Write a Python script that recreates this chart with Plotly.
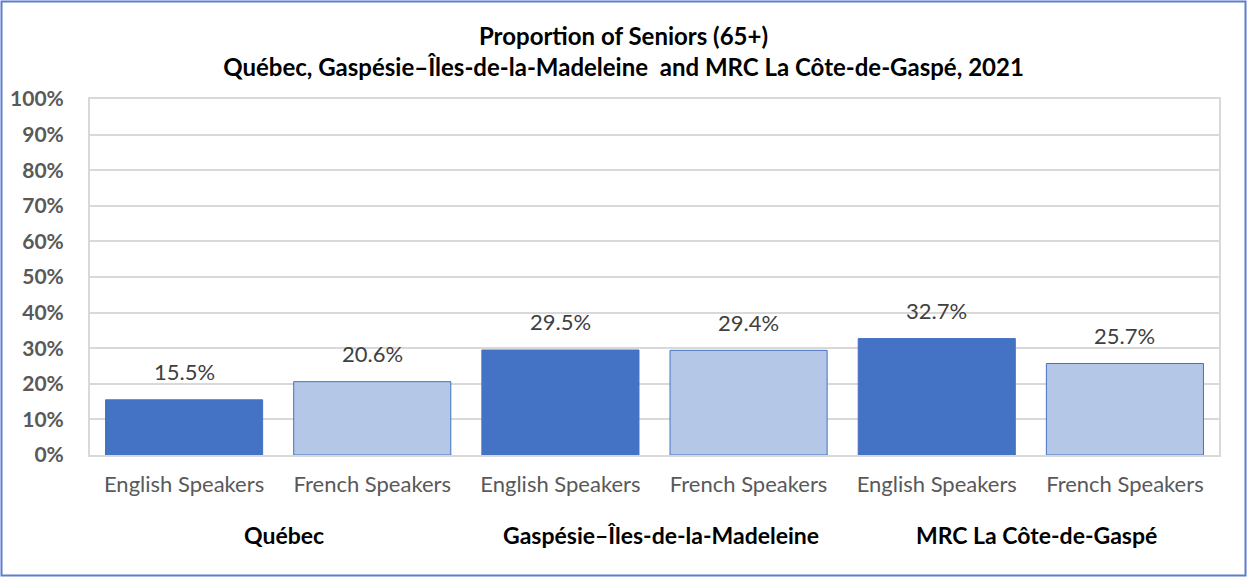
import plotly.graph_objects as go

categories = ["English Speakers", "French Speakers", "English Speakers", "French Speakers", "English Speakers", "French Speakers"]
groups = ["Québec", "Gaspésie–Îles-de-la-Madeleine", "MRC La Côte-de-Gaspé"]
values = [15.5, 20.6, 29.5, 29.4, 32.7, 25.7]
y_ticks = [0, 10, 20, 30, 40, 50, 60, 70, 80, 90, 100]
y_ticklabels = [f"{v}%" for v in y_ticks]

dark = "#4472C4"
light = "#B4C7E7"
colors = [dark if c.startswith("English") else light for c in categories]

x = list(range(len(categories)))
FONT = "Lato, Carlito, Calibri, sans-serif"

fig = go.Figure()
fig.add_trace(go.Bar(
    x=x, y=values,
    marker=dict(color=colors, line=dict(color=dark, width=1)),
    width=0.835,
    hoverinfo="skip",
))

for xi, v in zip(x, values):
    fig.add_annotation(
        x=xi, y=v, xref="x", yref="y", yanchor="middle", yshift=28,
        text=f"{v:.1f}%", showarrow=False,
        font=dict(family=FONT, size=22, color="#404040"),
    )

for i, g in enumerate(groups):
    fig.add_annotation(
        x=2 * i + 0.5, y=0, xref="x", yref="paper", yanchor="middle",
        yshift=-80, xshift=6, text=f"<b>{g}</b>", showarrow=False,
        font=dict(family=FONT, size=23, color="#000000"),
    )

pw, ph = 1129, 356
fig.add_shape(
    type="rect", xref="paper", yref="paper",
    x0=(1.5 - 90) / pw, x1=(1245.5 - 90) / pw,
    y0=(455 - 575.5) / ph, y1=(455 - 1.5) / ph,
    line=dict(color="#5B7FCF", width=2), fillcolor="rgba(0,0,0,0)", layer="below",
)

fig.update_layout(
    width=1247, height=577,
    margin=dict(l=90, r=28, t=99, b=122, autoexpand=False),
    paper_bgcolor="white", plot_bgcolor="white",
    showlegend=False,
    bargap=0.165,
    title=dict(
        text="<b>Proportion of Seniors (65+)</b><br><b>Québec, Gaspésie–Îles-de-la-Madeleine  and MRC La Côte-de-Gaspé, 2021</b>",
        x=0.5, xanchor="center", y=1 - 45 / 577, yanchor="top",
        font=dict(family=FONT, size=24, color="#000000"),
    ),
    xaxis=dict(
        range=[-0.5, 5.5], tickmode="array", tickvals=x, ticktext=categories,
        showgrid=False, showline=True, linecolor="#D9D9D9", linewidth=2, mirror=True,
        ticks="", ticklabelstandoff=9, automargin=False,
        tickfont=dict(family=FONT, size=22, color="#595959"),
        fixedrange=True,
    ),
    yaxis=dict(
        range=[0, 100], tickmode="array", tickvals=y_ticks,
        ticktext=[f"<b>{t}</b>" for t in y_ticklabels],
        showgrid=True, gridcolor="#D9D9D9", gridwidth=2,
        showline=True, linecolor="#D9D9D9", linewidth=2, mirror=True,
        zeroline=False, ticks="", ticklabelstandoff=20, automargin=False,
        tickfont=dict(family=FONT, size=21, color="#595959"),
        fixedrange=True,
    ),
)

fig.write_html(
    "out.html",
    config={"displayModeBar": False},
    post_script="document.body.style.margin='0';document.body.style.overflow='hidden';",
)
